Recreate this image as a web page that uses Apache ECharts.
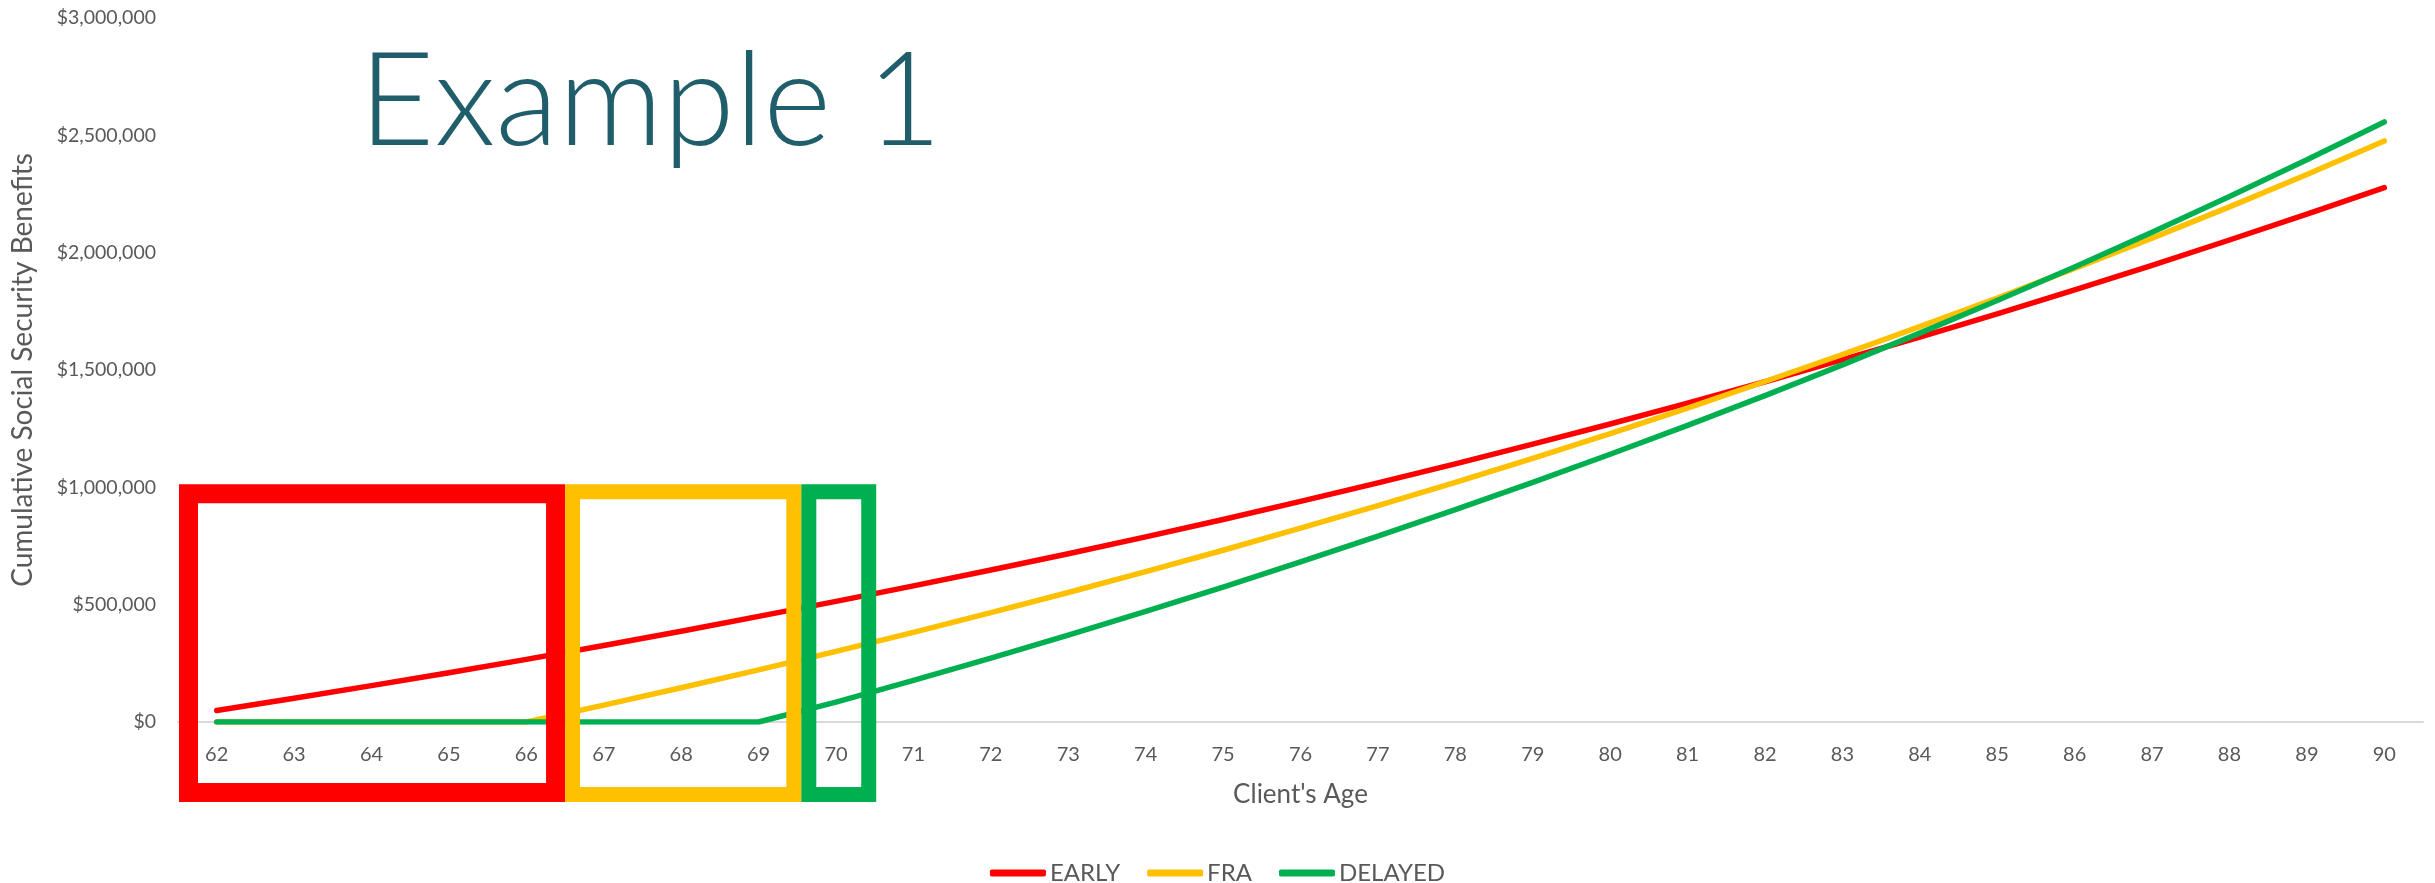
<!DOCTYPE html>
<html>
<head>
<meta charset="utf-8">
<title>Example 1 – Cumulative Social Security Benefits</title>
<script src="https://cdn.jsdelivr.net/npm/echarts@6/dist/echarts.min.js"></script>
<style>
  html, body { margin: 0; padding: 0; background: #ffffff; }
  #chart { width: 2435px; height: 883px; }
</style>
</head>
<body>
<div id="chart"></div>
<script>
// Client's age, one category per year
const ages = ['62','63','64','65','66','67','68','69','70','71','72','73','74','75',
              '76','77','78','79','80','81','82','83','84','85','86','87','88','89','90'];

// Cumulative benefits (USD) by claiming strategy
const early = [49000, 101000, 155000, 210000, 267000, 326000, 387000, 450000, 514000,
               580000, 648000, 717000, 789000, 863000, 940000, 1019000, 1100000, 1184000,
               1270000, 1359000, 1450000, 1544000, 1640000, 1739000, 1841000, 1946000,
               2054000, 2164000, 2277000];
const fra = [0, 0, 0, 0, 0, 72000, 146000, 222000, 301000, 382000, 466000, 552000,
             641000, 732000, 826000, 922000, 1021000, 1123000, 1229000, 1338000, 1451000,
             1566000, 1685000, 1807000, 1933000, 2062000, 2195000, 2333000, 2476000];
const delayed = [0, 0, 0, 0, 0, 0, 0, 0, 85000, 177000, 272000, 370000, 471000, 575000,
                 682000, 792000, 905000, 1021000, 1141000, 1264000, 1391000, 1522000,
                 1657000, 1796000, 1939000, 2087000, 2239000, 2396000, 2557000];

// Value axis ticks
const yMin = 0;
const yMax = 3000000;
const yStep = 500000;

// Age ranges highlighted for each strategy's claiming window
const bracketRanges = [
  { first: '62', last: '66' },
  { first: '67', last: '69' },
  { first: '70', last: '70' }
];
const bracketTop = 1000000;

const RED = '#FF0000', GOLD = '#FFC000', GREEN = '#00B050';
const GREY_TEXT = '#595959';
const FONT = 'Lato, "Open Sans", sans-serif';

const chart = echarts.init(document.getElementById('chart'), null, { renderer: 'canvas' });

function lineSeries(name, data, color) {
  return {
    name: name,
    type: 'line',
    data: data,
    symbol: 'none',
    showSymbol: false,
    smooth: false,
    color: color,
    lineStyle: { color: color, width: 5.5, cap: 'round', join: 'round' },
    emphasis: { disabled: true }
  };
}

chart.setOption({
  animation: false,
  backgroundColor: '#ffffff',
  title: {
    text: 'Example 1',
    left: 354,
    top: 33,
    textStyle: { fontFamily: FONT, fontWeight: 300, fontSize: 130, color: '#215E6B' }
  },
  grid: { left: 178, right: 12, top: 18, bottom: 161, outerBoundsMode: 'none' },
  legend: {
    top: 856,
    left: 'center',
    icon: 'roundRect',
    itemWidth: 56,
    itemHeight: 7,
    itemGap: 27,
    textStyle: { fontFamily: FONT, fontSize: 24, color: GREY_TEXT, padding: [0, 0, 0, -1] },
    data: ['EARLY', 'FRA', 'DELAYED']
  },
  xAxis: {
    type: 'category',
    data: ages,
    boundaryGap: true,
    name: "Client's Age",
    nameLocation: 'middle',
    nameGap: 60,
    nameTextStyle: { fontFamily: FONT, fontSize: 26, color: GREY_TEXT },
    axisLine: { show: true, lineStyle: { color: '#D9D9D9', width: 2 } },
    axisTick: { show: false },
    axisLabel: { fontFamily: FONT, fontSize: 20, color: GREY_TEXT, margin: 23, interval: 0 },
    splitLine: { show: false }
  },
  yAxis: {
    type: 'value',
    min: yMin,
    max: yMax,
    interval: yStep,
    name: 'Cumulative Social Security Benefits',
    nameLocation: 'middle',
    nameGap: 141,
    nameTextStyle: { fontFamily: FONT, fontSize: 28, color: GREY_TEXT },
    axisLine: { show: false },
    axisTick: { show: false },
    splitLine: { show: false },
    axisLabel: {
      fontFamily: FONT, fontSize: 19.5, color: GREY_TEXT, margin: 22,
      formatter: v => '$' + v.toLocaleString('en-US')
    }
  },
  series: [
    lineSeries('EARLY', early, RED),
    lineSeries('FRA', fra, GOLD),
    lineSeries('DELAYED', delayed, GREEN)
  ]
});

// Outlined boxes around each strategy's claiming ages, positioned from the axes
function drawBrackets() {
  const styles = [
    { color: RED, width: 19, nudgeLeft: 1, nudgeRight: 0 },
    { color: GOLD, width: 15, nudgeLeft: 0, nudgeRight: 4 },
    { color: GREEN, width: 15, nudgeLeft: 4, nudgeRight: 1.5 }
  ];
  const x0 = chart.convertToPixel({ xAxisIndex: 0 }, ages[0]);
  const x1 = chart.convertToPixel({ xAxisIndex: 0 }, ages[1]);
  const half = (x1 - x0) / 2;
  const yZero = chart.convertToPixel({ yAxisIndex: 0 }, 0);
  const top = chart.convertToPixel({ yAxisIndex: 0 }, bracketTop) - 3;
  const bottom = yZero + 80;
  const elements = bracketRanges.map((r, i) => {
    const s = styles[i];
    const left = chart.convertToPixel({ xAxisIndex: 0 }, r.first) - half + s.nudgeLeft;
    const right = chart.convertToPixel({ xAxisIndex: 0 }, r.last) + half + s.nudgeRight;
    return {
      type: 'rect',
      z: 100,
      silent: true,
      shape: {
        x: left + s.width / 2,
        y: top + s.width / 2,
        width: right - left - s.width,
        height: bottom - top - s.width
      },
      style: { fill: null, stroke: s.color, lineWidth: s.width, lineJoin: 'miter' }
    };
  });
  chart.setOption({ graphic: elements });
}
drawBrackets();
</script>
</body>
</html>
